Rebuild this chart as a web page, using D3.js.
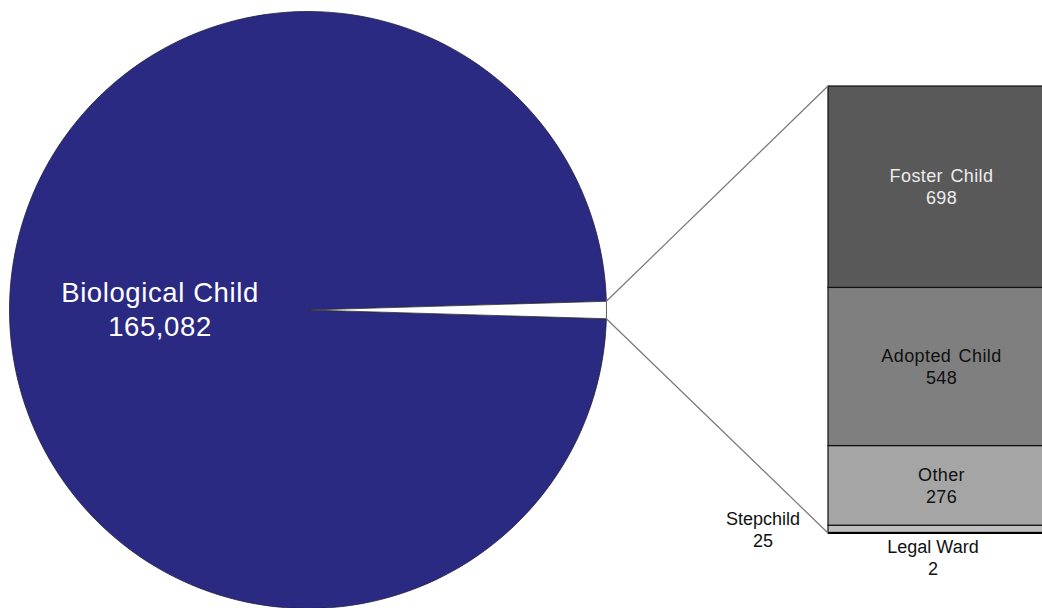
<!DOCTYPE html>
<html><head><meta charset="utf-8">
<script src="https://cdn.jsdelivr.net/npm/d3@7"></script>
<style>html,body{margin:0;padding:0;background:#fff;}svg{display:block;font-family:"Liberation Sans",Arial,sans-serif;}</style>
</head><body>
<svg id="chart" width="1042" height="608"></svg>
<script>
// Data
const pieCategories = ["Biological Child", "Other"];
const pieValues = [165082, 1549];
const barCategories = ["Legal Ward", "Stepchild", "Other", "Adopted Child", "Foster Child"];
const barValues = [2, 25, 276, 548, 698];
const barColors = ["#d9d9d9", "#bfbfbf", "#a5a5a5", "#7f7f7f", "#595959"];
const barTextColors = ["#000", "#000", "#111", "#111", "#ececec"];

const svg = d3.select("#chart");
const cx = 308, cy = 310, r = 298.5;

// Pie
const total = d3.sum(pieValues);
const otherAngle = 2 * Math.PI * pieValues[1] / total;
const pie = d3.pie().sort(null)
  .startAngle(Math.PI / 2 + otherAngle / 2)
  .endAngle(Math.PI / 2 + otherAngle / 2 + 2 * Math.PI);
const arcs = pie(pieValues);
const arc = d3.arc().innerRadius(0).outerRadius(r);
const g = svg.append("g").attr("transform", `translate(${cx},${cy})`);
g.selectAll("path").data(arcs).join("path")
  .attr("d", arc)
  .attr("fill", (d, i) => i === 0 ? "#2b2a82" : "#ffffff")
  .attr("stroke", (d, i) => i === 0 ? "#1e1e3a" : "#333")
  .attr("stroke-width", 0.8)
  .attr("stroke-linejoin", "miter");

// Biological label
const bioLabel = svg.append("text").attr("text-anchor", "middle").attr("fill", "#fff")
  .attr("font-size", 27.5).attr("letter-spacing", 0.6);
bioLabel.append("tspan").attr("x", 160).attr("y", 302).text(pieCategories[0]);
bioLabel.append("tspan").attr("x", 160).attr("y", 336).text(d3.format(",")(pieValues[0]));

// Bar
const barX0 = 828, barX1 = 1055, barTop = 86, barBottom = 533;
const sumBar = d3.sum(barValues);
const y = d3.scaleLinear().domain([0, sumBar]).range([barBottom, barTop]);
let acc = 0;
const stack = barValues.map((v, i) => { const s = { cat: barCategories[i], v, y0: acc, y1: acc + v, i }; acc += v; return s; });
svg.append("g").selectAll("rect").data(stack).join("rect")
  .attr("x", barX0).attr("width", barX1 - barX0)
  .attr("y", d => y(d.y1)).attr("height", d => y(d.y0) - y(d.y1))
  .attr("fill", d => barColors[d.i])
  .attr("stroke", "#111").attr("stroke-width", 1.2);
// bottom thick line for tiny Legal Ward segment
svg.append("line").attr("x1", barX0).attr("x2", barX1)
  .attr("y1", y(0)).attr("y2", y(0)).attr("stroke", "#000").attr("stroke-width", 2);

// connector lines
const a0 = arcs[1].startAngle, a1 = arcs[1].endAngle;
const p0 = [cx + r * Math.sin(a0), cy - r * Math.cos(a0)];
const p1 = [cx + r * Math.sin(a1), cy - r * Math.cos(a1)];
svg.append("line").attr("x1", p0[0]).attr("y1", p0[1]).attr("x2", barX0).attr("y2", y(sumBar))
  .attr("stroke", "#777").attr("stroke-width", 1.2);
svg.append("line").attr("x1", p1[0]).attr("y1", p1[1]).attr("x2", barX0).attr("y2", y(0))
  .attr("stroke", "#777").attr("stroke-width", 1.2);

// bar labels inside
const fs = 18;
const inside = stack.filter(d => d.i >= 2);
const lab = svg.append("g").selectAll("text").data(inside).join("text")
  .attr("text-anchor", "middle").attr("font-size", fs).attr("letter-spacing", 0.4).attr("word-spacing", 2)
  .attr("fill", d => barTextColors[d.i]);
lab.append("tspan").attr("x", 941.5).attr("y", d => (y(d.y0) + y(d.y1)) / 2 - 4.5).text(d => d.cat);
lab.append("tspan").attr("x", 941.5).attr("y", d => (y(d.y0) + y(d.y1)) / 2 + 17.5).text(d => d.v);

// outside labels
const step = stack[1], ward = stack[0];
const st = svg.append("text").attr("text-anchor", "middle").attr("font-size", fs).attr("fill", "#111");
st.append("tspan").attr("x", 763).attr("y", 525).text(step.cat);
st.append("tspan").attr("x", 763).attr("y", 547).text(step.v);
const wt = svg.append("text").attr("text-anchor", "middle").attr("font-size", fs).attr("fill", "#111");
wt.append("tspan").attr("x", 933).attr("y", 553).text(ward.cat);
wt.append("tspan").attr("x", 933).attr("y", 575).text(ward.v);
</script>
</body></html>
